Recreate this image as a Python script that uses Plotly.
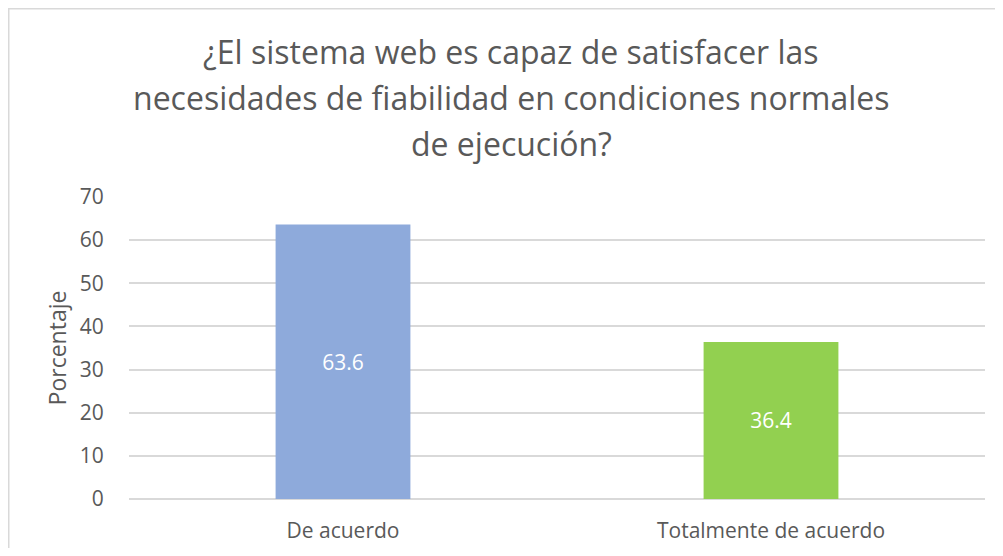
import plotly.graph_objects as go

categories = ["De acuerdo", "Totalmente de acuerdo"]
values = [63.6, 36.4]
bar_colors = ["#8EAADB", "#92D050"]
y_ticks = [0, 10, 20, 30, 40, 50, 60, 70]
title_lines = [
    "¿El sistema web es capaz de satisfacer las",
    "necesidades de fiabilidad en condiciones normales",
    "de ejecución?",
]
y_title = "Porcentaje"

# page body has an 8px margin, so figure coords = screen coords - 8
OFF = 8
W, H = 987, 540
L, T = 129 - OFF, 197 - OFF
pw, ph = 856, 302
R = W - L - pw
B = H - T - ph

def px_x(p):
    return (p - OFF - L) / pw

def px_y(p):
    return (T + ph - (p - OFF)) / ph

fig = go.Figure(go.Bar(
    x=categories, y=values,
    marker=dict(color=bar_colors, line=dict(width=0)),
    width=0.315,
    text=[f"{v:.1f}" for v in values],
    textposition="inside", insidetextanchor="middle",
    textfont=dict(family="Open Sans", size=21, color="white"),
    hoverinfo="skip",
))

title_centers = [51, 97, 143]
annotations = [dict(text=t, x=px_x(511), y=px_y(c), xref="paper", yref="paper",
                    xanchor="center", yanchor="middle", showarrow=False, align="center",
                    font=dict(family="Open Sans", size=32, color="#595959"))
               for t, c in zip(title_lines, title_centers)]

fig.update_layout(
    width=W, height=H,
    margin=dict(l=L, r=R, t=T, b=B, autoexpand=False),
    paper_bgcolor="white", plot_bgcolor="white",
    showlegend=False,
    font=dict(family="Open Sans", color="#595959"),
    xaxis=dict(showgrid=False, showline=False, ticks="outside", ticklen=13, automargin=False,
               tickcolor="rgba(0,0,0,0)", tickfont=dict(size=21, color="#595959"),
               range=[-0.5, 1.5]),
    yaxis=dict(range=[0, 70], tickvals=y_ticks, showgrid=True, gridcolor="#D9D9D9", gridwidth=1.5,
               zeroline=True, zerolinecolor="#D9D9D9", zerolinewidth=1.5, automargin=False,
               showline=False, ticks="outside", ticklen=20, tickcolor="rgba(0,0,0,0)",
               tickfont=dict(size=21, color="#595959"),
               title=dict(text=y_title, font=dict(size=23, color="#595959"), standoff=6)),
    annotations=annotations,
    shapes=[dict(type="rect", xref="paper", yref="paper", x0=px_x(8.75), x1=px_x(1010),
                 y0=px_y(600), y1=px_y(8.75), line=dict(color="#D9D9D9", width=1.5), layer="below")],
)

fig.write_html("out.html")
